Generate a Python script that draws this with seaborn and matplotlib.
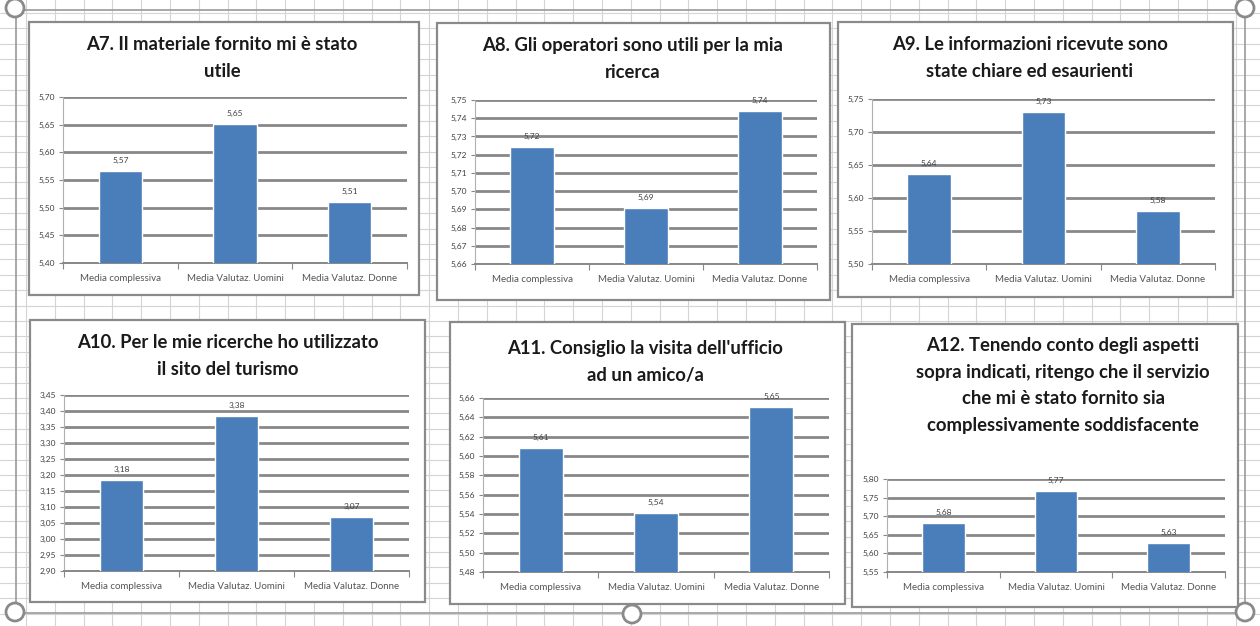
import numpy as np
import matplotlib
matplotlib.use("Agg")
import matplotlib.pyplot as plt
from matplotlib.patches import Rectangle, Circle
from matplotlib.ticker import FuncFormatter, FixedLocator
import seaborn as sns

sns.set_theme(style="white")
plt.rcParams["font.family"] = ["Lato", "DejaVu Sans"]

# ---- data ----
categories = ["Media complessiva", "Media Valutaz. Uomini", "Media Valutaz. Donne"]

a7_title = "A7. Il materiale fornito mi è stato\nutile"
a7_values = [5.566, 5.652, 5.511]
a7_axis = (5.40, 5.70, 0.05)

a8_title = "A8. Gli operatori sono utili per la mia\nricerca"
a8_values = [5.724, 5.691, 5.744]
a8_axis = (5.66, 5.75, 0.01)

a9_title = "A9. Le informazioni ricevute sono\nstate chiare ed esaurienti"
a9_values = [5.637, 5.731, 5.581]
a9_axis = (5.50, 5.75, 0.05)

a10_title = "A10. Per le mie ricerche ho utilizzato\nil sito del turismo"
a10_values = [3.184, 3.384, 3.068]
a10_axis = (2.90, 3.45, 0.05)

a11_title = "A11. Consiglio la visita dell'ufficio\nad un amico/a"
a11_values = [5.608, 5.541, 5.651]
a11_axis = (5.48, 5.66, 0.02)

a12_title = ("A12. Tenendo conto degli aspetti\nsopra indicati, ritengo che il servizio\n"
             "che mi è stato fornito sia\ncomplessivamente soddisfacente")
a12_values = [5.681, 5.768, 5.628]
a12_axis = (5.55, 5.80, 0.05)

# ---- layout (pixel boxes) ----
W, H = 1260, 626
BAR = "#4A7EBB"
GRID = "#888888"
TXT = "#404040"

fig = plt.figure(figsize=(W / 100, H / 100), dpi=100)
fig.patch.set_facecolor("white")


def frac(x0, y0, x1, y1):
    return [x0 / W, 1 - y1 / H, (x1 - x0) / W, (y1 - y0) / H]


# worksheet backdrop
bg = fig.add_axes([0, 0, 1, 1])
bg.set_xlim(0, W)
bg.set_ylim(H, 0)
bg.axis("off")
for gx in np.arange(26.0, W, 28.8):
    bg.plot([gx, gx], [0, H], color="#D4D4D4", lw=0.8, zorder=0)
for gy in np.arange(13.0, H, 15.4):
    bg.plot([0, W], [gy, gy], color="#D4D4D4", lw=0.8, zorder=0)

# selection frame and handles
bg.add_patch(Rectangle((16, 10), 1229, 603, fill=False, ec="#9A9A9A", lw=1.2, zorder=1))
for cx, cy in [(15, 8), (1245, 8), (15, 612), (632, 614), (1245, 612)]:
    bg.add_patch(Circle((cx, cy), 9, fc="white", ec="#8A8A8A", lw=2, zorder=5))

panels = [
    dict(box=(29, 22, 419, 295), plot=(63, 97, 407, 263), title=a7_title,
         tx=222, ty=47, vals=a7_values, axis=a7_axis),
    dict(box=(437, 23, 830, 300), plot=(475, 100, 817, 264), title=a8_title,
         tx=633, ty=48, vals=a8_values, axis=a8_axis),
    dict(box=(838, 22, 1233, 297), plot=(872, 99, 1215, 264), title=a9_title,
         tx=1030, ty=47, vals=a9_values, axis=a9_axis),
    dict(box=(30, 320, 425, 602), plot=(64, 395, 409, 571), title=a10_title,
         tx=228, ty=345, vals=a10_values, axis=a10_axis),
    dict(box=(450, 322, 845, 604), plot=(483, 398, 829, 572), title=a11_title,
         tx=645, ty=351, vals=a11_values, axis=a11_axis),
    dict(box=(852, 324, 1238, 607), plot=(887, 479, 1225, 572), title=a12_title,
         tx=1063, ty=348, vals=a12_values, axis=a12_axis),
]

comma = FuncFormatter(lambda v, p: f"{v:.2f}".replace(".", ","))

for p in panels:
    x0, y0, x1, y1 = p["box"]
    bg.add_patch(Rectangle((x0, y0), x1 - x0, y1 - y0, fc="white", ec="#8A8A8A",
                           lw=1.6, zorder=2))

    ax = fig.add_axes(frac(*p["plot"]))
    ax.set_zorder(4)
    ax.patch.set_alpha(0)
    sns.barplot(x=categories, y=p["vals"], color=BAR, saturation=1, width=0.38,
                ax=ax, zorder=3)
    lo, hi, step = p["axis"]
    ticks = np.round(np.arange(lo, hi + step / 2, step), 2)
    ax.set_ylim(lo, hi)
    ax.yaxis.set_major_locator(FixedLocator(ticks))
    ax.yaxis.set_major_formatter(comma)
    ax.set_xlim(-0.5, 2.5)
    ax.xaxis.set_minor_locator(FixedLocator([-0.5, 0.5, 1.5, 2.5]))
    ax.tick_params(axis="x", which="major", length=0, pad=8, labelsize=7, labelcolor="#555555")
    ax.tick_params(axis="x", which="minor", length=4, width=0.8, color=GRID,
                   direction="out", bottom=True)
    ax.tick_params(axis="y", length=3, width=0.8, color=GRID, direction="out", left=True,
                   pad=3, labelsize=6, labelcolor=TXT)
    ax.grid(axis="y", color=GRID, lw=2.0, zorder=1)
    ax.set_axisbelow(True)
    for s in ["top", "right"]:
        ax.spines[s].set_visible(False)
    ax.spines["left"].set_color("#B0B0B0")
    ax.spines["left"].set_linewidth(0.8)
    ax.spines["bottom"].set_color(GRID)
    ax.spines["bottom"].set_linewidth(1.4)
    ax.set_xlabel("")
    ax.set_ylabel("")
    ax.bar_label(ax.containers[0],
                 labels=[f"{v:.2f}".replace(".", ",") for v in p["vals"]],
                 padding=5, fontsize=6, color=TXT)

    t = fig.text(p["tx"] / W, 1 - (p["ty"] - 11) / H, p["title"], ha="center", va="top",
                 fontsize=13.3, fontweight="bold", color="#1A1A1A", linespacing=1.68,
                 multialignment="center")
    t.set_zorder(6)

fig.savefig("out.png", dpi=100, facecolor="white")
